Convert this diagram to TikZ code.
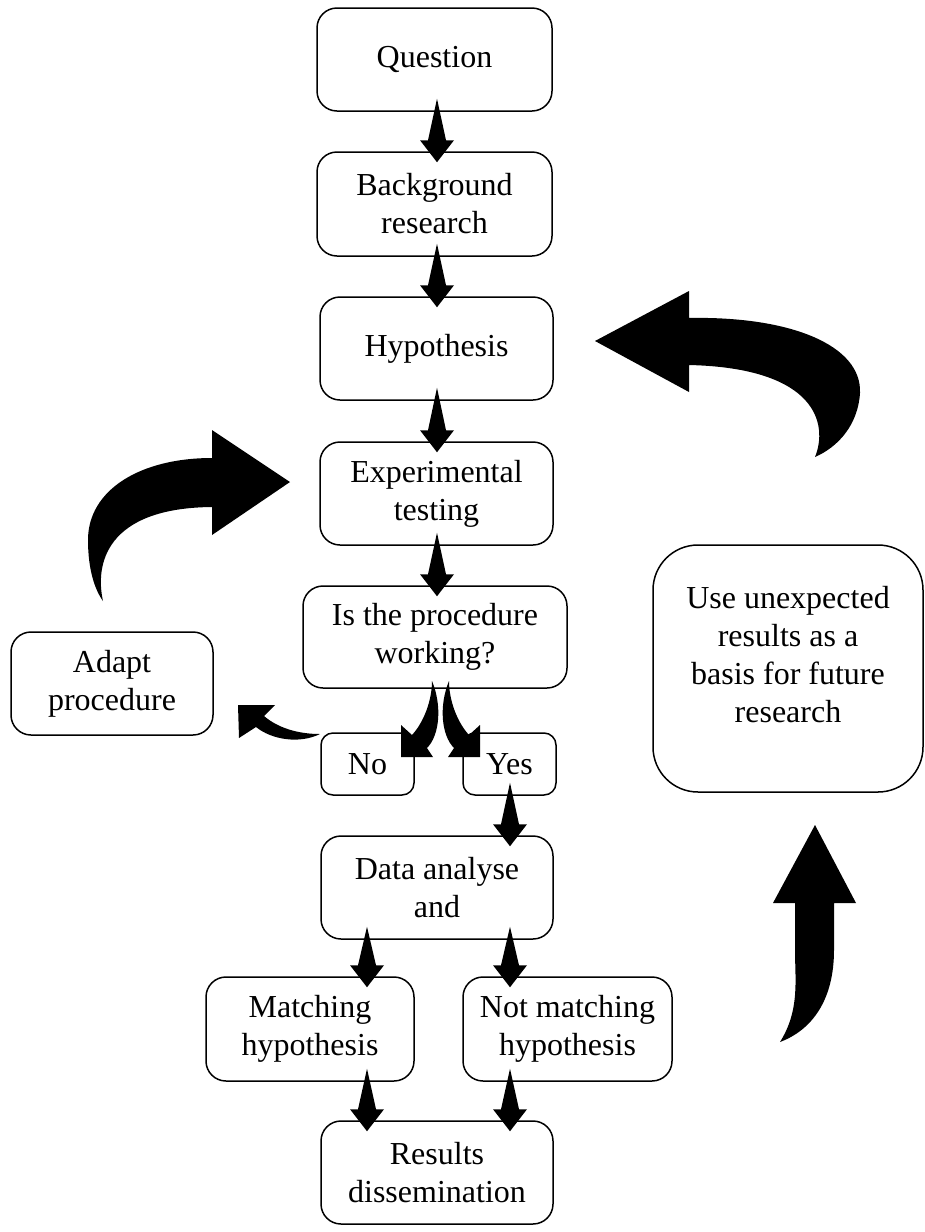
\documentclass[tikz,border=0pt]{standalone}
\usepackage{fontspec}
\setmainfont{Liberation Serif}
\usetikzlibrary{calc}
\tikzset{
  box/.style={draw, line width=1.5pt, rounded corners=20pt, inner sep=0pt, align=center,
    font=\fontsize{32}{38}\selectfont},
  txt/.style={inner sep=0pt, align=center, font=\fontsize{32}{38}\selectfont},
  blk/.style={fill=black},
}
\newcommand\tarrow[3]{\fill let \p1=(#1.south), \p2=(#2.north) in
  (#3pt,\y1+13pt) -- (#3pt+9pt,\y2+11pt) -- (#3pt+17pt,\y2+11pt) -- (#3pt,\y2-11pt)
  -- (#3pt-17pt,\y2+11pt) -- (#3pt-9pt,\y2+11pt) -- cycle;}
\begin{document}
\begin{tikzpicture}[x=1pt,y=-1pt]
\useasboundingbox (0,0) rectangle (925,1232);
% boxes
\node[box, minimum width=235pt, minimum height=103pt] (q) at (434.5,59.5) {Question};
\node[box, minimum width=235pt, minimum height=104pt] (b) at (434.5,204) {Background\\research};
\node[box, minimum width=233pt, minimum height=103pt] (h) at (436.5,348.5) {Hypothesis};
\node[box, minimum width=233pt, minimum height=103pt] (e) at (436.5,493.5) {Experimental\\testing};
\node[box, minimum width=264pt, minimum height=102pt] (w) at (435,637) {Is the procedure\\working?};
\node[box, minimum width=202pt, minimum height=103pt] (a) at (112,683.5) {Adapt\\procedure};
\node[box, rounded corners=12pt, minimum width=93pt, minimum height=62pt] (no) at (367.5,764) {No};
\node[box, rounded corners=12pt, minimum width=93pt, minimum height=62pt] (yes) at (509.5,764) {Yes};
\node[box, minimum width=232pt, minimum height=103pt] (d) at (437,887.5) {Data analyse\\and};
\node[box, minimum width=208pt, minimum height=104pt] (m) at (310,1029) {Matching\\hypothesis};
\node[box, minimum width=209pt, minimum height=104pt] (nm) at (567.5,1029) {Not matching\\hypothesis};
\node[box, minimum width=232pt, minimum height=103pt] (r) at (437,1172.5) {Results\\dissemination};
\node[box, rounded corners=45pt, minimum width=270pt, minimum height=247pt] (u) at (788,668.5) {};
\node[txt] (ut) at (788,655) {Use unexpected\\results as a\\basis for future\\research};
% straight tapered arrows
\tarrow{q}{b}{437}
\tarrow{b}{h}{437}
\tarrow{h}{e}{437}
\tarrow{e}{w}{437}
\tarrow{yes}{d}{510}
\tarrow{d}{m}{367}
\tarrow{d}{nm}{510}
\tarrow{m}{r}{367}
\tarrow{nm}{r}{510}
% big curved arrow to Hypothesis
\fill (595,341) -- (689,291) -- (689,318) .. controls (790,316) and (862,345) .. (860,393)
  .. controls (858,425) and (838,447) .. (815,457)
  .. controls (828,425) and (818,368) .. (689,365) -- (689,392) -- cycle;
% big curved arrow to Experimental testing
\fill (290,482) -- (212,430) -- (212,458) .. controls (140,458) and (88,490) .. (88,540)
  .. controls (88,570) and (95,590) .. (103,601)
  .. controls (95,565) and (105,508) .. (212,507) -- (212,535) -- cycle;
% small curved arrow No -> Adapt
\fill (238,705) -- (275,705) -- (264,716) .. controls (278,728) and (298,734) .. (320,734)
  .. controls (300,744) and (272,740) .. (256,727) -- (239,738) -- cycle;
% arrows into No and Yes
\fill (401,757) -- (401,725) -- (412,735) .. controls (424,722) and (432,700) .. (432,681)
  .. controls (442,705) and (440,735) .. (427,748) -- (433,757) -- cycle;
\fill (480,757) -- (480,725) -- (469,735) .. controls (457,722) and (449,700) .. (449,681)
  .. controls (439,705) and (441,735) .. (454,748) -- (448,757) -- cycle;
% big up arrow to Use unexpected
\fill (815,825) -- (856,903) -- (834,903) -- (834,950) .. controls (834,1000) and (812,1030) .. (780,1042)
  .. controls (800,1010) and (795,980) .. (795,950) -- (795,903) -- (773,903) -- cycle;
\end{tikzpicture}
\end{document}
